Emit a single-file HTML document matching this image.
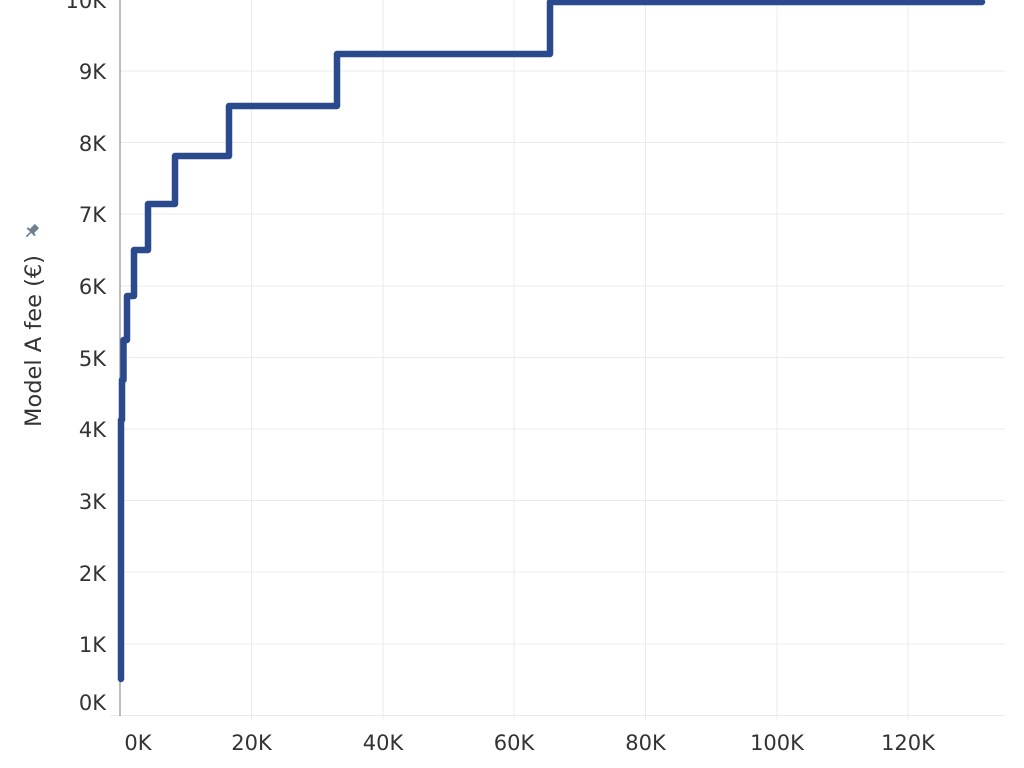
<!DOCTYPE html><html><head><style>body{margin:0;background:#fff}svg{display:block}text{font-family:"DejaVu Sans","Liberation Sans",sans-serif;fill:#333}</style></head><body>
<svg width="1024" height="768" xmlns="http://www.w3.org/2000/svg">
<g stroke="#ebebeb" stroke-width="1">
<line x1="120" x2="1005" y1="71" y2="71"/><line x1="120" x2="1005" y1="142.5" y2="142.5"/><line x1="120" x2="1005" y1="214" y2="214"/><line x1="120" x2="1005" y1="286" y2="286"/><line x1="120" x2="1005" y1="357.5" y2="357.5"/><line x1="120" x2="1005" y1="429" y2="429"/><line x1="120" x2="1005" y1="500.5" y2="500.5"/><line x1="120" x2="1005" y1="572" y2="572"/><line x1="120" x2="1005" y1="644" y2="644"/><line x1="110" x2="1005" y1="715.5" y2="715.5"/>
<line x1="251.5" x2="251.5" y1="0" y2="720"/><line x1="383" x2="383" y1="0" y2="720"/><line x1="514" x2="514" y1="0" y2="720"/><line x1="645.5" x2="645.5" y1="0" y2="720"/><line x1="777" x2="777" y1="0" y2="720"/><line x1="908" x2="908" y1="0" y2="720"/>
</g>
<line x1="120" x2="120" y1="0" y2="716" stroke="#999" stroke-width="1.3"/>
<g font-size="21" text-anchor="end">
<text x="106" y="8">10K</text><text x="106" y="79">9K</text><text x="106" y="151">8K</text><text x="106" y="222">7K</text><text x="106" y="294">6K</text><text x="106" y="366">5K</text><text x="106" y="437">4K</text><text x="106" y="509">3K</text><text x="106" y="581">2K</text><text x="106" y="652">1K</text><text x="106" y="710">0K</text>
</g>
<g font-size="21" text-anchor="middle">
<text x="138" y="750">0K</text><text x="251.5" y="750">20K</text><text x="383" y="750">40K</text><text x="514" y="750">60K</text><text x="645.5" y="750">80K</text><text x="777" y="750">100K</text><text x="908" y="750">120K</text>
</g>
<text transform="translate(41,341) rotate(-90)" font-size="22.5" text-anchor="middle">Model A fee (€)</text>
<g transform="translate(32,231) rotate(45)" fill="#6f7f91"><rect x="-3" y="-7" width="6" height="8"/><rect x="-5.5" y="0" width="11" height="2"/><rect x="-0.8" y="2" width="1.6" height="6"/></g>
<polyline fill="none" stroke="#2a4a8d" stroke-width="6.5" stroke-linejoin="round" stroke-linecap="round" points="121,679 121,420 122,420 122,380 123.5,380 123.5,340 127,340 127,296 134,296 134,250 148,250 148,204 175,204 175,156 229,156 229,106 337,106 337,54 550,54 550,2 982,2"/>
</svg></body></html>
